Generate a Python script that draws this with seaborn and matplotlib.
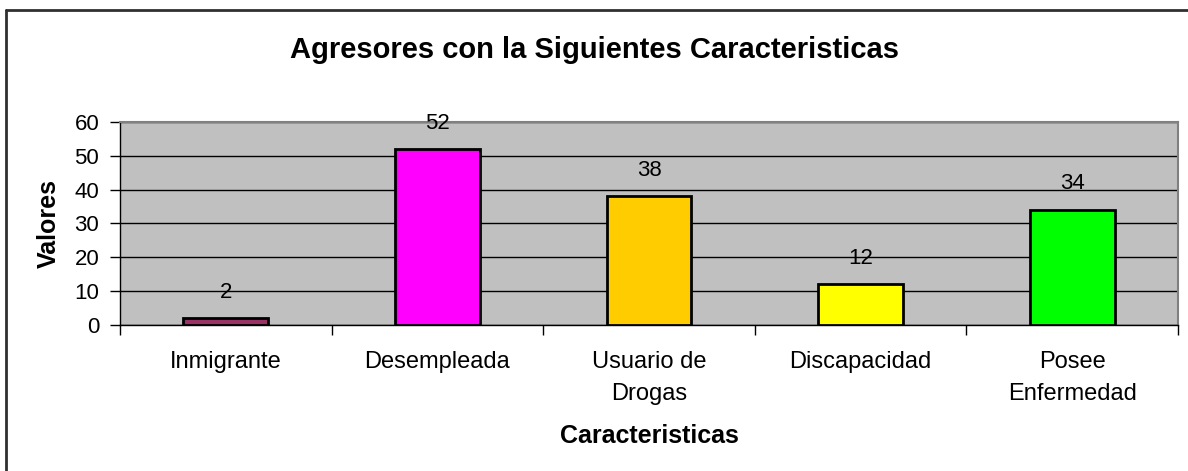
import matplotlib
matplotlib.use("Agg")
import matplotlib.pyplot as plt
import seaborn as sns
import pandas as pd
from matplotlib.lines import Line2D

# data
categorias = ["Inmigrante", "Desempleada", "Usuario de\nDrogas", "Discapacidad", "Posee\nEnfermedad"]
valores = [2, 52, 38, 12, 34]
colores = ["#993366", "#FF00FF", "#FFCC00", "#FFFF00", "#00FF00"]

df = pd.DataFrame({"cat": categorias, "val": valores})

sns.set_style("white")
plt.rcParams["font.family"] = ["Liberation Sans", "DejaVu Sans"]
plt.rcParams["text.color"] = "black"
plt.rcParams["axes.labelcolor"] = "black"
plt.rcParams["xtick.color"] = "black"
plt.rcParams["ytick.color"] = "black"

fig = plt.figure(figsize=(11.88, 4.71), dpi=100)
ax = fig.add_axes([0.101, 0.310, 0.8906, 0.431])

sns.barplot(data=df, x="cat", y="val", hue="cat", palette=colores, legend=False,
            width=0.4, edgecolor="black", linewidth=2, saturation=1, ax=ax, zorder=3)

ax.set_facecolor("#C0C0C0")
ax.set_ylim(0, 60)
ax.set_yticks(range(0, 61, 10))
ax.set_xlim(-0.5, 4.5)
ax.yaxis.grid(True, color="black", linewidth=1)
ax.set_axisbelow(True)

for sp in ["top", "right"]:
    ax.spines[sp].set_color("#808080")
    ax.spines[sp].set_linewidth(1.5)
for sp in ["left", "bottom"]:
    ax.spines[sp].set_color("black")
    ax.spines[sp].set_linewidth(1)

# x ticks at category boundaries, labels at category centres
ax.set_xticks([i + 0.5 for i in range(-1, 5)], minor=False)
ax.set_xticklabels([])
ax.set_xticks(range(5), minor=True)
ax.set_xticklabels(categorias, minor=True, fontsize=17, linespacing=1.55)
ax.tick_params(axis="x", which="minor", length=0, pad=19)
ax.tick_params(axis="x", which="major", length=7, width=1, direction="out", bottom=True)
ax.tick_params(axis="y", length=7, width=1, direction="out", left=True, labelsize=16, pad=8)

for i, v in enumerate(valores):
    ax.text(i, v + 7.7, str(v), ha="center", va="center", fontsize=16)

ax.set_xlabel("Caracteristicas", fontsize=18, fontweight="bold", labelpad=14)
ax.set_ylabel("Valores", fontsize=18, fontweight="bold", labelpad=10)
fig.text(0.5, 0.894, "Agresores con la Siguientes Caracteristicas", ha="center", va="center",
         fontsize=21, fontweight="bold")

# chart frame (only left and top edges are visible in the crop)
fig.add_artist(Line2D([0.0051, 0.0051], [0.0, 0.9788], transform=fig.transFigure,
                      color="#303030", linewidth=2))
fig.add_artist(Line2D([0.0051, 1.0], [0.9788, 0.9788], transform=fig.transFigure,
                      color="#303030", linewidth=2))

fig.savefig("out.png", dpi=100)
